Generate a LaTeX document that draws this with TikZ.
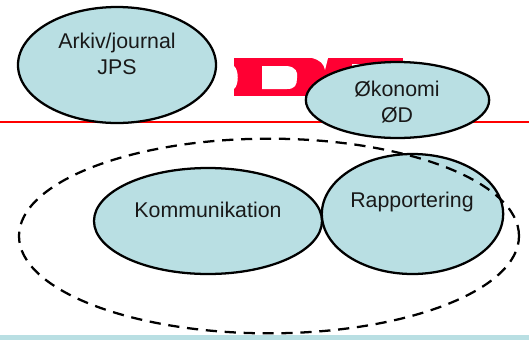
\documentclass[tikz,border=0pt]{standalone}
\usepackage{fontspec}
\setmainfont{Liberation Sans}
\usepackage{xcolor}
\usetikzlibrary{shapes.geometric}
\definecolor{paleblue}{HTML}{B9DFE3}
\definecolor{logored}{HTML}{FF0033}
\tikzset{
  bubble/.style={ellipse,draw=black,line width=1.7pt,fill=paleblue,inner sep=0pt},
  caption/.style={font=\fontsize{16pt}{19.5pt}\selectfont,align=center,text=black!90,inner sep=0pt},
}
\begin{document}
\begin{tikzpicture}[x=0.75pt,y=-0.75pt]
       \useasboundingbox (0,0) rectangle (529,340);
       % logo and rule
       \fill[logored] (234,58) rectangle (403,96);
       \fill[white] (234,66) .. controls (239,70) and (239,85) .. (234,89) -- cycle;
       \fill[white] (262,66) -- (287,66) .. controls (296,67) and (298,72) .. (297,78) .. controls (297,85) and (295,89) .. (287,89) -- (262,89) -- cycle;
       \fill[white] (312,58) .. controls (320,60) and (324,64) .. (325,70) -- (328,58) -- cycle;
       \fill[white] (352,64) rectangle (403,75);
       \draw[red,line width=2.2pt] (0,122) -- (529,122);
       \fill[paleblue] (0,335) rectangle (529,340);
       % bubbles
       \node[bubble,minimum width=148.5pt,minimum height=87pt] (arkiv) at (117,65) {};
       \node[bubble,minimum width=137.5pt,minimum height=57pt] (okonomi) at (397.5,100) {};
       \node[bubble,minimum width=171pt,minimum height=79.5pt] (komm) at (208,221) {};
       \node[bubble,minimum width=136pt,minimum height=90pt] (rapport) at (412.5,214) {};
       \node[ellipse,draw=black,line width=1.7pt,dash pattern=on 8.4pt off 5.8pt,minimum width=375pt,minimum height=146pt,inner sep=0pt] (scope) at (269,236) {};
       % texts
       \node[caption] (arkivtext) at (117,54) {Arkiv/journal\\JPS};
       \node[caption] (okonomitext) at (397,102) {Økonomi\\ØD};
       \node[caption] (kommtext) at (208,210) {Kommunikation};
       \node[caption] (rapporttext) at (412,202) {Rapportering};
\end{tikzpicture}
\end{document}
